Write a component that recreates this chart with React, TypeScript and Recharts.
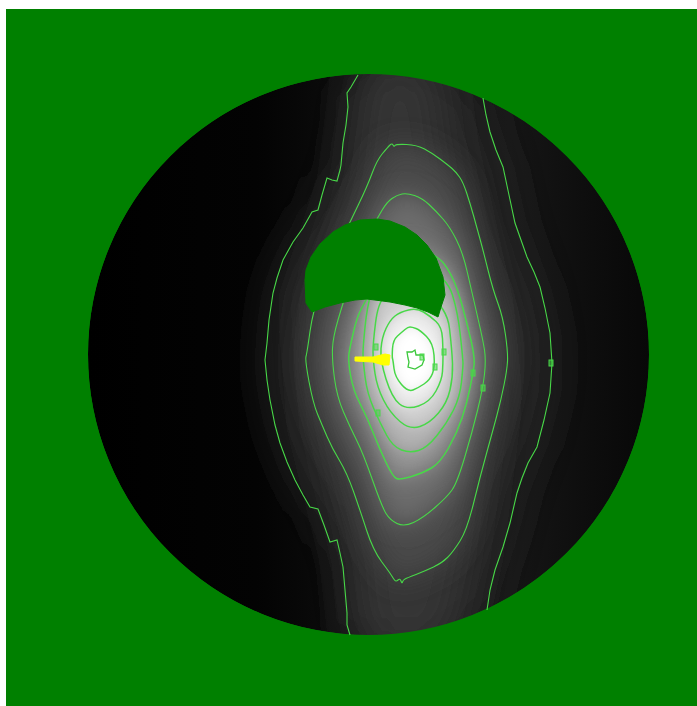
import { ScatterChart, Scatter, XAxis, YAxis } from "recharts";

type Pt = [number, number];

// everything, in image pixels
const diskCentre: Pt[] = [[368.5, 354.5]];

const contourA: Pt[] = [
  [358, 75], [351, 87], [347, 93], [348, 107], [346, 125], [343, 143], [341, 165], [340, 170], [337, 181], [332, 180],
  [327, 178], [322, 195], [318, 210], [312, 212], [303, 228], [293, 242], [283, 260], [277, 278], [273, 293], [269, 320],
  [267, 343], [265, 360], [267, 380], [270, 400], [275, 425], [280, 443], [287, 462], [295, 480], [303, 495], [310, 507],
  [318, 509], [324, 525], [330, 542], [337, 540], [340, 553], [343, 567], [345, 590], [347, 613], [347, 625], [350, 635],
];
const contourB: Pt[] = [
  [483, 98], [486, 115], [490, 132], [496, 150], [503, 167], [509, 195], [515, 223], [521, 240], [527, 257], [534, 272],
  [540, 287], [545, 308], [550, 333], [552, 363], [550, 393], [544, 420], [537, 447], [528, 463], [522, 478], [517, 493],
  [510, 523], [503, 547], [495, 570], [490, 590], [487, 610],
];
const contourO: Pt[] = [
  [396, 144], [417, 145], [432, 153], [448, 165], [456, 172], [463, 182], [470, 203], [477, 228], [483, 250], [493, 290],
  [503, 317], [508, 353], [507, 370], [501, 400], [493, 430], [480, 477], [467, 530], [453, 552], [442, 563], [425, 571],
  [407, 578], [403, 580], [402, 584], [400, 578], [396, 582], [393, 578], [390, 573], [373, 550], [360, 510], [347, 473],
  [332, 448], [322, 425], [313, 403], [305, 360], [307, 353], [313, 310], [330, 265], [350, 222], [367, 187], [377, 160],
  [388, 147], [392, 143], [394, 147],
];
const contourN: Pt[] = [
  [407, 193], [422, 198], [436, 211], [450, 227], [463, 253], [472, 293], [483, 340], [486, 360], [483, 388], [472, 433],
  [457, 483], [447, 497], [423, 518], [404, 527], [390, 520], [382, 507], [363, 453], [350, 427], [337, 397], [332, 360],
  [333, 337], [343, 303], [360, 250], [378, 217], [387, 202], [397, 195],
];
const contourM: Pt[] = [
  [400, 236], [438, 257], [447, 267], [457, 287], [467, 323], [475, 358], [473, 373], [467, 403], [457, 433], [440, 463],
  [423, 473], [400, 480], [393, 477], [380, 450], [367, 417], [353, 390], [348, 360], [350, 347], [357, 317], [365, 302],
];
const contourL: Pt[] = [
  [405, 260], [447, 277], [458, 313], [463, 360], [463, 367], [460, 397], [447, 423], [427, 448], [410, 453], [393, 447],
  [380, 423], [367, 393], [363, 360], [363, 347], [367, 307], [375, 280],
];
const contourK: Pt[] = [
  [410, 285], [447, 307], [452, 350], [453, 377], [447, 403], [430, 423], [410, 430], [390, 413], [377, 387], [373, 360],
  [373, 343], [378, 303], [390, 292],
];
const contourJ: Pt[] = [
  [400, 312], [417, 308], [430, 316], [442, 327], [443, 350], [443, 363], [442, 380], [430, 402], [407, 410], [392, 398],
  [380, 360], [382, 337], [390, 320],
];
const contourI: Pt[] = [
  [408, 327], [412, 327], [420, 330], [433, 343], [435, 367], [430, 380], [418, 388], [408, 392], [395, 377], [393, 360],
  [392, 357], [393, 340], [402, 332],
];
const contourCore: Pt[] = [
  [407, 352], [412, 352], [415, 350], [416, 355], [423, 355], [424, 360], [422, 365], [415, 369], [408, 367], [409, 362], [408, 358],
];

const glow: Pt[] = [
  [365, 60], [435, 60], [445, 140], [480, 300], [490, 400], [470, 560], [450, 650], [362, 650], [352, 560], [320, 430], [310, 300], [350, 180],
];

const bandCapTop: Pt[] = [[420, 50]];
const bandCapBottom: Pt[] = [[420, 660]];

const cutout: Pt[] = [
  [305, 280], [306, 270], [311, 257], [320, 244], [333, 232], [345, 225], [360, 220], [377, 219], [390, 221], [405, 227],
  [417, 235], [427, 245], [436, 258], [443, 277], [445, 295], [441, 307], [438, 317], [428, 312], [417, 308], [405, 305],
  [390, 302], [367, 299], [355, 300], [340, 303], [325, 307], [312, 312], [306, 303],
];

const arrow: Pt[] = [
  [355, 357], [373, 357], [385, 354], [390, 355], [389, 365], [383, 365], [373, 362], [355, 361],
];

const tickMarks: Pt[] = [
  [551, 363], [483, 388], [473, 373], [435, 367], [444, 352], [378, 413], [376, 347], [422, 357],
];

const toRows = (pts: Pt[]) => pts.map(([x, y]) => ({ x, y }));

const diskRows = toRows(diskCentre);
const tickRows = toRows(tickMarks);
const bandRows = toRows([...contourA, ...bandCapBottom, ...[...contourB].reverse(), ...bandCapTop]);
const glowRows = toRows(glow);
const cutoutRows = toRows(cutout);
const arrowRows = toRows(arrow);

const fillLevels = [
  { rows: toRows(contourO), fill: "#484848", blur: "blur14" },
  { rows: toRows(contourN), fill: "#6c6c6c", blur: "blur12" },
  { rows: toRows(contourM), fill: "#929292", blur: "blur10" },
  { rows: toRows(contourL), fill: "#b2b2b2", blur: "blur8" },
  { rows: toRows(contourK), fill: "#cecece", blur: "blur7" },
  { rows: toRows(contourJ), fill: "#eaeaea", blur: "blur6" },
  { rows: toRows(contourI), fill: "#ffffff", blur: "blur6" },
];

const lineLevels = [toRows(contourO), toRows(contourN), toRows(contourM), toRows(contourL), toRows(contourK), toRows(contourJ), toRows(contourI)];
const rawLines = [toRows(contourA), toRows(contourB)];
const coreRows = toRows(contourCore);

const noDot = () => <g />;

// straight segments between the scaled points
const jointPath = (pts: any[], close = false) =>
  pts.map((q, i) => `${i ? "L" : "M"}${q.x},${q.y}`).join("") + (close ? "Z" : "");

// closed ring rounded through the mid points of its edges
const smoothPath = (pts: any[]) => {
  const mid = (a: any, b: any) => `${(a.x + b.x) / 2},${(a.y + b.y) / 2}`;
  let d = `M${mid(pts[pts.length - 1], pts[0])}`;
  pts.forEach((q, i) => {
    d += `Q${q.x},${q.y} ${mid(q, pts[(i + 1) % pts.length])}`;
  });
  return d + "Z";
};

type Look = { fill?: string; stroke?: string; strokeWidth?: number; filter?: string; smooth?: boolean; close?: boolean };

// Scatter hands its scaled points to the line renderer; this turns them into a path
const pathOf = (look: Look) => (p: any) => (
  <path
    d={look.smooth ? smoothPath(p.points) : jointPath(p.points, look.close)}
    fill={look.fill ?? "none"}
    stroke={look.stroke ?? "none"}
    strokeWidth={look.strokeWidth ?? 1}
    filter={look.filter}
  />
);

function BlurFilter({ id, dev }: { id: string; dev: number }) {
  return (
    <filter id={id} x="-40%" y="-40%" width="180%" height="180%">
      <feGaussianBlur stdDeviation={dev} />
    </filter>
  );
}

export default function App() {
  return (
    <div style={{ position: "absolute", left: 6, top: 9 }}>
      <ScatterChart width={691} height={697} margin={{ top: 0, right: 0, bottom: 0, left: 0 }} style={{ background: "#008000" }}>
        <defs>
          <linearGradient id="diskShade" x1="0" y1="0" x2="1" y2="0">
            <stop offset="0%" stopColor="#000000" />
            <stop offset="30%" stopColor="#030303" />
            <stop offset="42%" stopColor="#0a0a0a" />
            <stop offset="75%" stopColor="#161616" />
            <stop offset="90%" stopColor="#0d0d0d" />
            <stop offset="100%" stopColor="#080808" />
          </linearGradient>
          {[6, 7, 8, 10, 12, 14, 22].map((dev) => (
            <BlurFilter key={dev} id={`blur${dev}`} dev={dev} />
          ))}
        </defs>
        <XAxis type="number" dataKey="x" domain={[6, 697]} hide allowDataOverflow />
        <YAxis type="number" dataKey="y" domain={[9, 706]} reversed hide allowDataOverflow />

        <Scatter
          data={diskRows}
          isAnimationActive={false}
          shape={(p: any) => <circle cx={p.cx} cy={p.cy} r={280.5} fill="url(#diskShade)" />}
        />

        <Scatter data={bandRows} shape={noDot} isAnimationActive={false} line={pathOf({ fill: "#262626", filter: "url(#blur22)", close: true })} />
        <Scatter data={glowRows} shape={noDot} isAnimationActive={false} line={pathOf({ fill: "#343434", filter: "url(#blur22)", close: true })} />
        {fillLevels.map((lvl, i) => (
          <Scatter
            key={"f" + i}
            data={lvl.rows}
            shape={noDot}
            isAnimationActive={false}
            line={pathOf({ fill: lvl.fill, filter: `url(#${lvl.blur})`, smooth: true })}
          />
        ))}

        {/* green ring hides whatever the blur pushed outside the disk */}
        <Scatter
          data={diskRows}
          isAnimationActive={false}
          shape={(p: any) => <circle cx={p.cx} cy={p.cy} r={400.5} fill="none" stroke="#008000" strokeWidth={240} />}
        />

        {rawLines.map((rows, i) => (
          <Scatter key={"r" + i} data={rows} shape={noDot} isAnimationActive={false} line={pathOf({ stroke: "#48d848", strokeWidth: 1.1 })} />
        ))}
        {lineLevels.map((rows, i) => (
          <Scatter
            key={"l" + i}
            data={rows}
            shape={noDot}
            isAnimationActive={false}
            line={pathOf({ stroke: "#48d848", strokeWidth: i > 1 ? 1.5 : 1.1, smooth: true })}
          />
        ))}
        <Scatter data={coreRows} shape={noDot} isAnimationActive={false} line={pathOf({ stroke: "#3cc83c", strokeWidth: 1.3, close: true })} />

        {/* drawn after the contours so it hides the parts under it */}
        <Scatter data={cutoutRows} shape={noDot} isAnimationActive={false} line={pathOf({ fill: "#008000", stroke: "#008000", close: true })} />

        <Scatter
          data={tickRows}
          isAnimationActive={false}
          shape={(p: any) => <rect x={p.cx - 2} y={p.cy - 3} width={4} height={6} fill="#48d84888" stroke="#48d848" strokeWidth={1} />}
        />

        <Scatter data={arrowRows} shape={noDot} isAnimationActive={false} line={pathOf({ fill: "#ffff00", stroke: "#ffff00", close: true })} />
      </ScatterChart>
    </div>
  );
}
